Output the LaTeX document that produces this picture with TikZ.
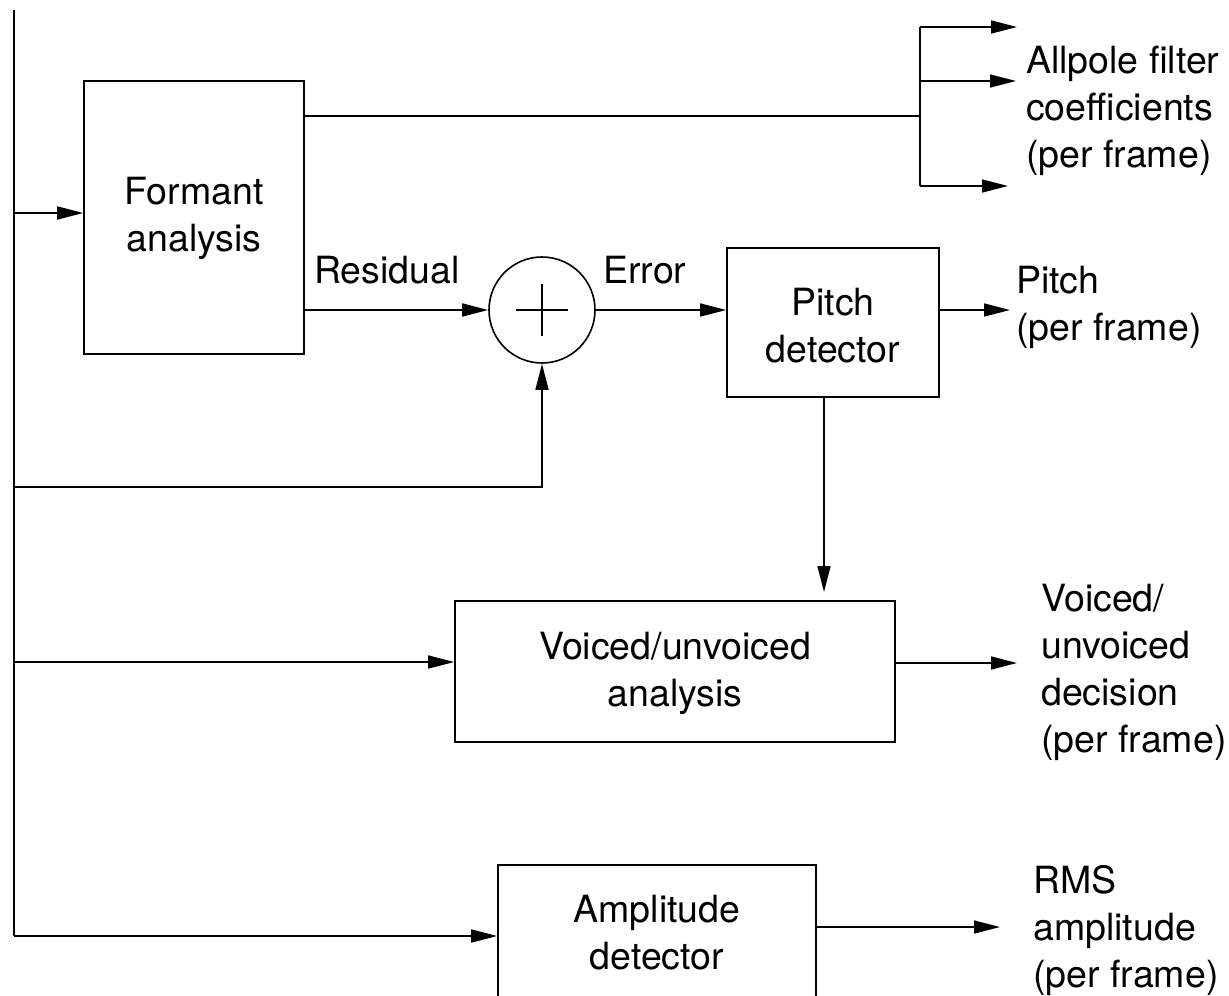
\documentclass[tikz,border=0pt]{standalone}
\usepackage{fontspec}
\setmainfont{TeX Gyre Heros}
\usetikzlibrary{arrows.meta}
% multi-line texts whose baseline is that of their first line
\newcommand{\stackL}[1]{\begin{tabular}[t]{@{}l@{}}#1\end{tabular}}
\newcommand{\stackC}[1]{\begin{tabular}[t]{@{}c@{}}#1\end{tabular}}

\begin{document}
\begin{tikzpicture}[x=1pt,y=-1pt,
  txt/.style={font=\fontsize{37.5}{47}\selectfont, inner sep=0pt},
  wire/.style={line width=1.6pt},
  arr/.style={wire, -{Triangle[length=26pt,width=13pt]}},
  block/.style={draw, line width=1.6pt, rectangle, inner sep=0pt},
  summer/.style={draw, line width=1.6pt, circle, inner sep=0pt, minimum size=106pt}]

\useasboundingbox (0,0) rectangle (1229,996);

% processing blocks
\node[block, minimum width=220pt, minimum height=273pt] (formant) at (194,217.5) {};
\node[block, minimum width=212pt, minimum height=149pt] (pitch) at (833,322.5) {};
\node[block, minimum width=440pt, minimum height=141pt] (voiced) at (675,671.5) {};
\node[block, minimum width=318pt, minimum height=150pt] (amp) at (657,940) {};
\node[summer] (sum) at (542,310) {};
\draw[wire] ([xshift=-26pt]sum.center) -- ([xshift=26pt]sum.center)
            ([yshift=-26pt]sum.center) -- ([yshift=26pt]sum.center);

% block captions
\node[txt, anchor=base] (formanttxt) at (194,204) {\stackC{Formant\\analysis}};
\node[txt, anchor=base] (pitchtxt) at (833,315) {\stackC{Pitch\\detector}};
\node[txt, anchor=base] (voicedtxt) at (675,659) {\stackC{Voiced/unvoiced\\analysis}};
\node[txt, anchor=base] (amptxt) at (657,922) {\stackC{Amplitude\\detector}};

% signal labels
\node[txt, anchor=base west] (residual) at (314,283) {Residual};
\node[txt, anchor=base west] (error) at (603,283) {Error};

% output labels
\node[txt, anchor=base west] (outcoef) at (1026,73) {\stackL{Allpole filter\\coefficients\\(per frame)}};
\node[txt, anchor=base west] (outpitch) at (1016,293) {\stackL{Pitch\\(per frame)}};
\node[txt, anchor=base west] (outvoiced) at (1041,611) {\stackL{Voiced/\\unvoiced\\decision\\(per frame)}};
\node[txt, anchor=base west] (outrms) at (1033,893) {\stackL{RMS\\amplitude\\(per frame)}};

% input bus and its taps
\coordinate (bustop) at (14,10);
\coordinate (busend) at (14,936);
\coordinate (tapformant) at (14,213);
\coordinate (tapsum) at (14,487);
\coordinate (tapvoiced) at (14,662);
\draw[wire] (bustop) -- (busend);
\draw[arr] (tapformant) -- (formant.west |- tapformant);
\draw[arr] (tapsum) -| (sum.south);
\draw[arr] (tapvoiced) -- (voiced.west |- tapvoiced);
\draw[arr] (busend) -- (amp.west |- busend);

% filter coefficients fan-out
\coordinate (coefsplit) at (920,116);
\coordinate (coefA) at (920,27);
\coordinate (coefB) at (920,81);
\coordinate (coefC) at (920,186);
\coordinate (coefAend) at (1017,27);
\coordinate (coefBend) at (1016,81);
\coordinate (coefCend) at (1008,186);
\draw[wire] (formant.east |- coefsplit) -- (coefsplit);
\draw[wire] (coefA) -- (coefC);
\draw[arr] (coefA) -- (coefAend);
\draw[arr] (coefB) -- (coefBend);
\draw[arr] (coefC) -- (coefCend);

% residual, error and pitch path
\draw[arr] (formant.east |- sum) -- (sum.west);
\draw[arr] (sum.east) -- (pitch.west |- sum);
\coordinate (pitchend) at (1010,310);
\draw[arr] (pitch.east |- pitchend) -- (pitchend);
\coordinate (pitchtap) at (824,0);
\coordinate (vuarrow) at (824,592);
\draw[arr] (pitch.south -| pitchtap) -- (vuarrow);

% voiced/unvoiced and amplitude outputs
\coordinate (vuend) at (1017,663);
\draw[arr] (voiced.east |- vuend) -- (vuend);
\coordinate (rmsend) at (1000,927);
\draw[arr] (amp.east |- rmsend) -- (rmsend);
\end{tikzpicture}
\end{document}
